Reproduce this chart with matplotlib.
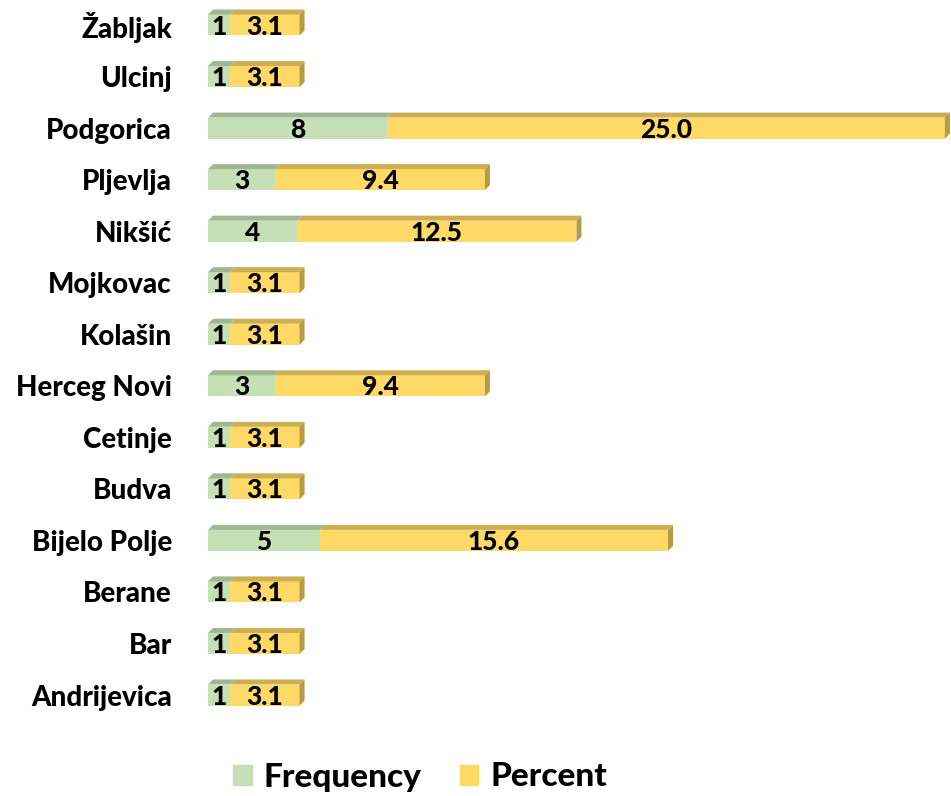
import numpy as np
import matplotlib
matplotlib.use("Agg")
import matplotlib.pyplot as plt
from matplotlib.patches import Polygon, Patch

plt.rcParams['font.family'] = ['Lato', 'DejaVu Sans']

# data (bottom to top)
towns = ["Andrijevica", "Bar", "Berane", "Bijelo Polje", "Budva", "Cetinje",
         "Herceg Novi", "Kolašin", "Mojkovac", "Nikšić", "Pljevlja",
         "Podgorica", "Ulcinj", "Žabljak"]
frequency = [1, 1, 1, 5, 1, 1, 3, 1, 1, 4, 3, 8, 1, 1]
percent = [3.1, 3.1, 3.1, 15.6, 3.1, 3.1, 9.4, 3.1, 3.1, 12.5, 9.4, 25.0, 3.1, 3.1]

green, green_top = "#C5E0B4", "#9FB893"
yellow, yellow_top, yellow_side = "#FFD966", "#CDAE52", "#B89A45"
wt = "black"

W, H = 951, 796
fig = plt.figure(figsize=(W / 100, H / 100), dpi=100)
# axes placed in pixels: left at 208, top 0 .. bottom 730
ax = fig.add_axes([208 / W, (H - 730) / H, 1 - 208 / W, 730 / H])
px_x = 22.33   # pixels per unit
px_y = 51.54   # pixels per row
ax.set_xlim(0, (W - 208) / px_x)
ax.set_ylim(-35 / px_y, 13 + 25 / px_y)

y = np.arange(len(towns))
h = 21 / px_y
dx, dy = 5 / px_x, 5 / px_y
freq = np.array(frequency, float)
pct = np.array(percent, float)

ax.barh(y, freq, height=h, color=green, linewidth=0)
ax.barh(y, pct, left=freq, height=h, color=yellow, linewidth=0)

for yi, f, p in zip(y, freq, pct):
    top = yi + h / 2
    bot = yi - h / 2
    # top faces
    for x0, x1, c in [(0, f, green_top), (f, f + p, yellow_top)]:
        ax.add_patch(Polygon([(x0, top), (x1, top), (x1 + dx, top + dy), (x0 + dx, top + dy)],
                             closed=True, color=c, linewidth=0))
    # right side face
    e = f + p
    ax.add_patch(Polygon([(e, bot), (e, top), (e + dx, top + dy), (e + dx, bot + dy)],
                         closed=True, color=yellow_side, linewidth=0))
    ax.text(f / 2, yi - 0.03, f"{int(f)}", ha="center", va="center",
            fontsize=19, fontweight=wt, color="black")
    ax.text(f + p / 2, yi - 0.03, f"{p:.1f}", ha="center", va="center",
            fontsize=19, fontweight=wt, color="black")

ax.set_yticks(y)
ax.set_yticklabels(towns, fontsize=20, fontweight=wt)
ax.tick_params(axis="y", length=0, pad=26)
ax.set_xticks([])
for s in ax.spines.values():
    s.set_visible(False)

handles = [Patch(color=green, label="Frequency"), Patch(color=yellow, label="Percent")]
fig.legend(handles=handles, loc="center", bbox_to_anchor=(420 / W, 1 - 777 / H),
           ncol=2, frameon=False, prop={"size": 24, "weight": wt},
           handlelength=0.55, handleheight=0.55, handletextpad=0.36, columnspacing=1.15)

fig.savefig("out.png", dpi=100)
